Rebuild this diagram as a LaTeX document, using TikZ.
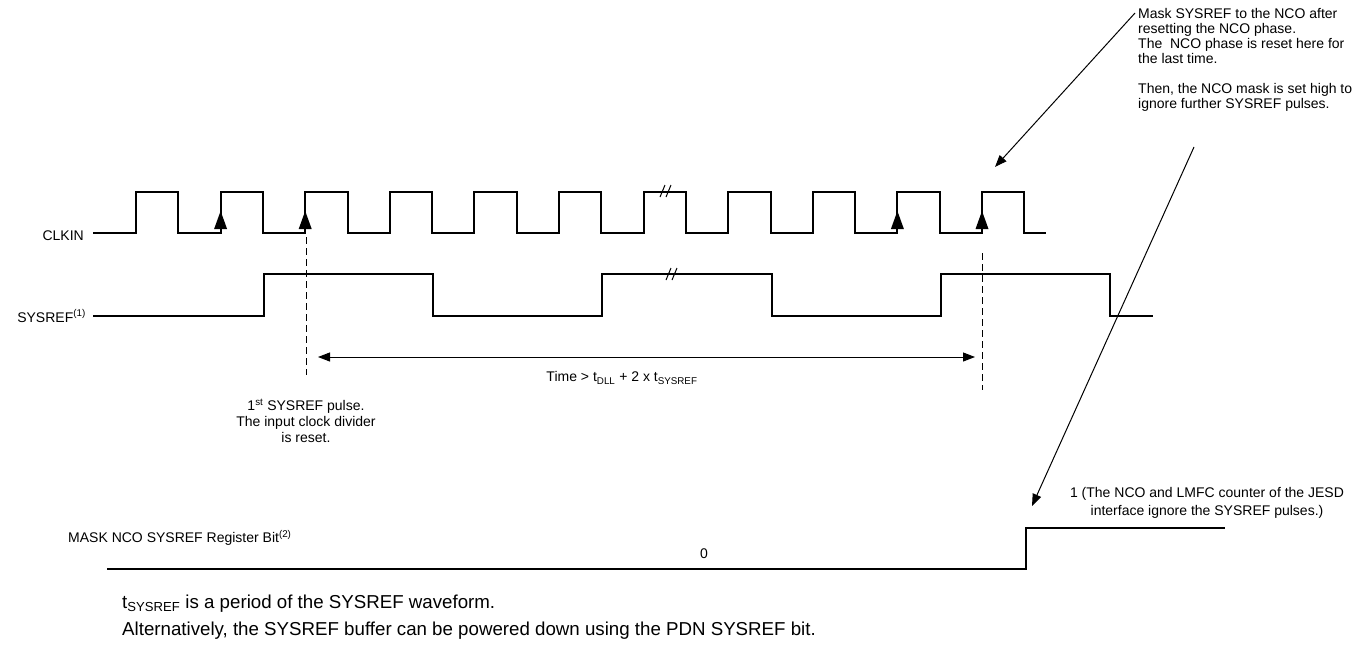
\documentclass[tikz,border=0pt]{standalone}
\usepackage{fontspec}
\setmainfont{Liberation Sans}
\usetikzlibrary{arrows.meta}
\begin{document}
\begin{tikzpicture}[x=1pt,y=-1pt,
  wave/.style={line width=2pt, line join=miter, line cap=butt},
  lbl/.style={font=\fontsize{14}{16}\selectfont, inner sep=0pt},
  brk/.style={line width=1pt},
  dashln/.style={line width=1pt, dash pattern=on 7pt off 4pt},
  arr/.style={line width=1pt, -{Triangle[length=12pt,width=9pt]}},
  dblarr/.style={line width=1pt, {Triangle[length=12pt,width=9pt]}-{Triangle[length=12pt,width=9pt]}},
  note/.style={font=\fontsize{18.7}{22}\selectfont, inner sep=0pt, anchor=base west},
]
\useasboundingbox (0,0) rectangle (1368,646);

% CLKIN waveform
\draw[wave] (93,233) foreach \i in {0,...,10} { -- ({136+84.6*\i},233) -- ({136+84.6*\i},192) -- ({178.3+84.6*\i},192) -- ({178.3+84.6*\i},233) } -- (1046,233);
% edge markers on CLKIN
\foreach \x in {220.6,305.2,897.4,982} {
  \fill ({\x-6.5},229) -- (\x,211) -- ({\x+6.5},229) -- cycle;
}
% break marks
\draw[brk] (660,197) -- (665,185) (666,197) -- (671,185);
\draw[brk] (666,280) -- (671,268) (672,280) -- (677,268);

% SYSREF waveform
\draw[wave] (93,316) -- (264,316) -- (264,274) -- (433,274) -- (433,316) -- (602,316) -- (602,274) -- (772,274) -- (772,316) -- (941,316) -- (941,274) -- (1110,274) -- (1110,316) -- (1153,316);

% MASK register waveform
\draw[wave] (107,569) -- (1026,569) -- (1026,528) -- (1225,528);

% dashed markers
\coordinate (d1a) at (306,237); \coordinate (d1b) at (306,375);
\coordinate (d2a) at (982,253); \coordinate (d2b) at (982,390);
\draw[dashln] (d1a) -- (d1b);
\draw[dashln] (d2a) -- (d2b);

% time span arrow
\coordinate (tl) at (318,357); \coordinate (tr) at (975,357);
\draw[dblarr] (tl) -- (tr);
\node[lbl] (timelbl) at (622,378) {Time > t\textsubscript{DLL} + 2 x t\textsubscript{SYSREF}};

% labels
\node[lbl, anchor=east] (clkin) at (84,236) {CLKIN};
\node[lbl, anchor=east] (sysref) at (86,316) {SYSREF\textsuperscript{(1)}};
\node[lbl, anchor=west] (mask) at (68,538) {MASK NCO SYSREF Register Bit\textsuperscript{(2)}};
\node[lbl] (zero) at (704,554) {0};
\node[lbl, anchor=north, align=center, font=\fontsize{14}{18}\selectfont] (one) at (1207,487)
  {1 (The NCO and LMFC counter of the JESD\\interface ignore the SYSREF pulses.)};
\node[lbl, anchor=north, align=center] (first) at (306,399)
  {1\textsuperscript{st} SYSREF pulse.\\The input clock divider\\is reset.};
\node[lbl, anchor=north west, align=left, font=\fontsize{14}{15}\selectfont] (masknote) at (1138,8)
  {Mask SYSREF to the NCO after\\resetting the NCO phase.\\The\ \ NCO phase is reset here for\\the last time.\\[15pt]Then, the NCO mask is set high to\\ignore further SYSREF pulses.};

% pointer arrows
\coordinate (p1s) at (1135,13); \coordinate (p1e) at (995,167);
\draw[arr] (p1s) -- (p1e);
\coordinate (p2s) at (1194,147); \coordinate (p2e) at (1032,506);
\draw[arr] (p2s) -- (p2e);

% footnotes
\node[note] (fn1) at (122,608) {t\textsubscript{SYSREF} is a period of the SYSREF waveform.};
\node[note] (fn2) at (122,635) {Alternatively, the SYSREF buffer can be powered down using the PDN SYSREF bit.};
\end{tikzpicture}
\end{document}
